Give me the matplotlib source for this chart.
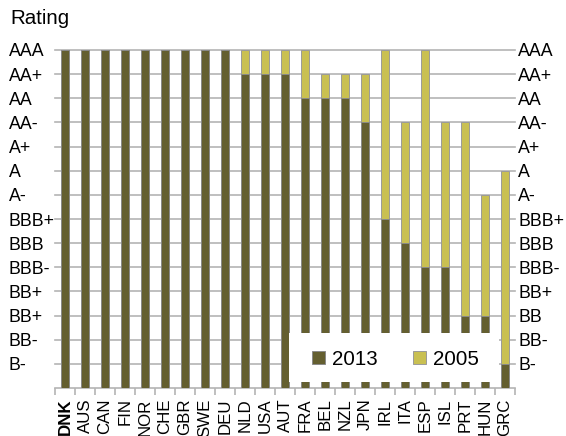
import matplotlib
matplotlib.use("Agg")
import matplotlib.pyplot as plt
import matplotlib.transforms as mtransforms
from matplotlib.patches import Rectangle, Patch

plt.rcParams['font.family'] = ['Liberation Sans', 'DejaVu Sans']

countries = ["DNK", "AUS", "CAN", "FIN", "NOR", "CHE", "GBR", "SWE", "DEU", "NLD", "USA", "AUT",
             "FRA", "BEL", "NZL", "JPN", "IRL", "ITA", "ESP", "ISL", "PRT", "HUN", "GRC"]
# rating scale: 1 = B- ... 14 = AAA
rating_2013 = [14, 14, 14, 14, 14, 14, 14, 14, 14, 13, 13, 13,
               12, 12, 12, 11, 7, 6, 5, 5, 3, 3, 1]
rating_2005 = [14, 14, 14, 14, 14, 14, 14, 14, 14, 14, 14, 14,
               14, 13, 13, 13, 14, 11, 14, 11, 11, 8, 9]
left_labels = ["B-", "BB-", "BB+", "BB+", "BBB-", "BBB", "BBB+", "A-", "A", "A+", "AA-", "AA", "AA+", "AAA"]
right_labels = ["B-", "BB-", "BB", "BB+", "BBB-", "BBB", "BBB+", "A-", "A", "A+", "AA-", "AA", "AA+", "AAA"]
series_names = ["2013", "2005"]

c2013 = "#645F30"
c2005 = "#C9C052"
grid_c = "#B4B4B4"

W, H = 566, 436
fig = plt.figure(figsize=(W / 100, H / 100), dpi=100)
ax = fig.add_axes([55 / W, 1 - 388 / H, (515 - 55) / W, (388 - 50) / H])

n = len(countries)
x = list(range(n))
ax.set_xlim(-0.5, n - 0.5)
ax.set_ylim(0, 14)

bw = 0.43
ax.bar(x, rating_2005, width=bw, color=c2005, edgecolor="#9a9a9a", linewidth=0.7, zorder=3)
ax.bar(x, rating_2013, width=bw, color=c2013, edgecolor="#8a8a8a", linewidth=0.7, zorder=4)

for lvl in range(1, 15):
    ax.axhline(lvl, color=grid_c, linewidth=1.2, zorder=1, clip_on=False)

for s in ["top", "left", "right"]:
    ax.spines[s].set_visible(False)
ax.spines["bottom"].set_color(grid_c)
ax.spines["bottom"].set_linewidth(1.2)

ax.set_yticks([])
ax.set_xticks(x)
ax.set_xticklabels(countries, rotation=90, fontsize=12.2)
ax.get_xticklabels()[0].set_fontweight("bold")
ax.tick_params(axis="x", which="major", length=0, pad=7.5)
ax.set_xticks([i - 0.5 for i in range(n + 1)], minor=True)
ax.tick_params(axis="x", which="minor", length=5, color=grid_c, width=1.2)

tl = mtransforms.blended_transform_factory(fig.transFigure, ax.transData)
for i, (ll, rl) in enumerate(zip(left_labels, right_labels)):
    lvl = i + 1
    ax.text(9 / W, lvl, ll, transform=tl, ha="left", va="center_baseline", fontsize=12.8, clip_on=False)
    ax.text(518 / W, lvl, rl, transform=tl, ha="left", va="center_baseline", fontsize=12.8, clip_on=False)

fig.text(10 / W, 1 - 18 / H, "Rating", ha="left", va="center", fontsize=14.8)

# legend box covering lower part of plot
ax.add_patch(Rectangle((289 / W, 1 - 382 / H), (499 - 289) / W, (382 - 333) / H,
                       transform=fig.transFigure, facecolor="white", edgecolor="none",
                       zorder=10, clip_on=False))
handles = [Patch(facecolor=c2013, edgecolor="#8a8a8a", linewidth=0.7, label=series_names[0]),
           Patch(facecolor=c2005, edgecolor="#9a9a9a", linewidth=0.7, label=series_names[1])]
leg = ax.legend(handles=handles, ncol=2, loc="center", frameon=False,
                bbox_to_anchor=(395.5 / W, 1 - 359 / H), bbox_transform=fig.transFigure,
                fontsize=14.8, handlelength=0.6, handleheight=0.6, handletextpad=0.35,
                columnspacing=1.75, borderpad=0)
leg.set_zorder(11)

fig.savefig("out.png", dpi=100)
